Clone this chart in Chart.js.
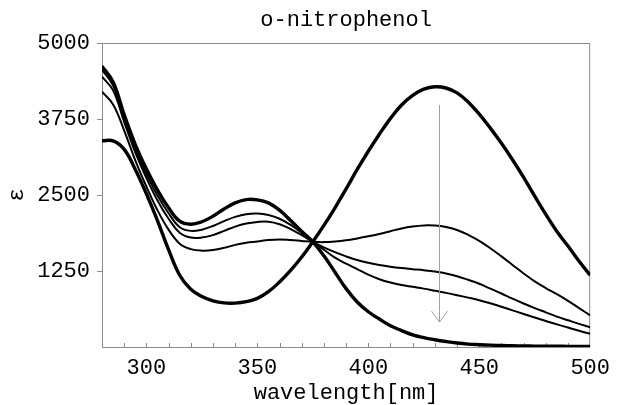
<!DOCTYPE html>
<html>
<head>
<meta charset="utf-8">
<script src="https://cdn.jsdelivr.net/npm/chart.js@4"></script>
<style>
  html, body { margin: 0; padding: 0; background: #fff; }
  #c { display: block; }
</style>
</head>
<body>
<canvas id="c" width="618" height="405"></canvas>
<script>
// ---- data ----
const wavelengths = [280,285,290,295,300,305,310,315,320,325,330,335,340,345,350,355,360,365,370,375,
  380,385,390,395,400,405,410,415,420,425,430,435,440,445,450,455,460,465,470,475,480,485,490,495,500];

const seriesBasic = [3390,3390,3250,2920,2520,2080,1600,1180,950,830,760,725,722,745,800,910,1070,1260,1480,1730,
  2000,2290,2600,2920,3220,3500,3760,3980,4140,4240,4280,4260,4180,4030,3830,3600,3350,3080,2790,2480,2180,1900,1660,1410,1180];

const seriesMid1 = [4198,3990,3560,3070,2640,2250,1930,1700,1610,1585,1595,1630,1680,1715,1735,1760,1770,1760,1745,1730,
  1725,1735,1755,1785,1820,1860,1905,1950,1982,2000,1998,1975,1925,1845,1745,1625,1490,1350,1210,1080,970,870,760,640,520];

const seriesMid2 = [4445,4220,3700,3200,2780,2410,2110,1880,1800,1800,1840,1910,1980,2030,2056,2060,2020,1940,1840,1730,
  1640,1560,1490,1430,1385,1348,1320,1298,1280,1262,1240,1210,1165,1105,1040,960,880,795,715,640,570,500,440,380,327];

const seriesMid3 = [4560,4300,3760,3260,2850,2490,2200,1970,1910,1930,1990,2070,2140,2185,2195,2170,2110,2010,1880,1730,
  1600,1470,1370,1280,1190,1115,1060,1020,990,960,925,890,852,812,770,720,663,603,543,485,428,372,320,266,217];

const seriesAcid = [4620,4360,3820,3330,2930,2580,2290,2070,2020,2060,2150,2270,2370,2425,2420,2370,2250,2080,1900,1730,
  1500,1230,960,740,580,460,350,270,200,155,120,90,65,48,38,30,25,20,17,15,13,12,11,10,10];

const xTickValues = [300, 350, 400, 450, 500];
const xMinorTicks = [290,300,310,320,330,340,350,360,370,380,390,400,410,420,430,440,450,460,470,480,490];
const yTickValues = [1250, 2500, 3750, 5000];
const arrowX = 432;
const arrowFrom = 3980;
const arrowTo = 410;

const titleText = 'o-nitrophenol';
const xTitle = 'wavelength[nm]';
const yTitle = 'ε';

// ---- build ----
const FONT = "'Liberation Mono', 'Courier New', monospace";
const GRAY = '#8a8a8a';

function pts(vals) { return wavelengths.map((w, i) => ({ x: w, y: vals[i] })); }

function ds(vals, width) {
  return {
    data: pts(vals),
    borderColor: '#000',
    borderWidth: width,
    pointRadius: 0,
    fill: false,
    tension: 0.4,
    showLine: true
  };
}

const decor = {
  id: 'decor',
  beforeDatasetsDraw(chart) {
    const { ctx, chartArea: a, scales } = chart;
    ctx.save();
    ctx.strokeStyle = GRAY;
    ctx.lineWidth = 1;
    ctx.strokeRect(a.left + 0.5, a.top + 0.5, a.right - a.left - 1, a.bottom - a.top);
    ctx.beginPath();
    xMinorTicks.forEach(v => {
      const px = Math.round(scales.x.getPixelForValue(v)) + 0.5;
      ctx.moveTo(px, a.bottom);
      ctx.lineTo(px, a.bottom - 4);
    });
    ctx.stroke();
    ctx.restore();
  },
  afterDatasetsDraw(chart) {
    const { ctx, scales } = chart;
    const x = Math.round(scales.x.getPixelForValue(arrowX)) + 0.5;
    const y1 = scales.y.getPixelForValue(arrowFrom);
    const y2 = scales.y.getPixelForValue(arrowTo);
    ctx.save();
    ctx.strokeStyle = '#a0a0a0';
    ctx.lineWidth = 1;
    ctx.beginPath();
    ctx.moveTo(x, y1);
    ctx.lineTo(x, y2);
    ctx.moveTo(x - 8, y2 - 11);
    ctx.lineTo(x, y2);
    ctx.lineTo(x + 8, y2 - 11);
    ctx.stroke();
    ctx.restore();
  }
};

new Chart(document.getElementById('c'), {
  type: 'line',
  data: {
    datasets: [
      ds(seriesBasic, 3.4),
      ds(seriesMid1, 2),
      ds(seriesMid2, 2),
      ds(seriesMid3, 2),
      ds(seriesAcid, 3.4)
    ]
  },
  options: {
    responsive: false,
    animation: false,
    devicePixelRatio: 1,
    layout: { padding: { left: 0, right: 22, top: 0, bottom: 0 } },
    plugins: {
      legend: { display: false },
      tooltip: { enabled: false },
      title: {
        display: true,
        fullSize: false,
        text: titleText,
        color: '#000',
        font: { family: FONT, size: 22, weight: 'normal', lineHeight: 1.2 },
        padding: { top: 7, bottom: 9.6 }
      }
    },
    scales: {
      x: {
        type: 'linear',
        min: 280,
        max: 500,
        position: 'bottom',
        afterBuildTicks: s => { s.ticks = xTickValues.map(v => ({ value: v })); },
        afterFit: s => { s.height = 58; },
        grid: { display: false, drawTicks: false },
        border: { display: false },
        ticks: {
          color: '#000',
          padding: 8,
          maxRotation: 0,
          font: { family: FONT, size: 22 },
          callback: v => String(v)
        },
        title: {
          display: true,
          text: xTitle,
          color: '#000',
          font: { family: FONT, size: 22, lineHeight: 1 },
          padding: { top: 0, bottom: 1 }
        }
      },
      y: {
        type: 'linear',
        min: 0,
        max: 5000,
        afterBuildTicks: s => { s.ticks = yTickValues.map(v => ({ value: v })); },
        afterFit: s => { s.width = 102; },
        grid: { drawOnChartArea: false, drawTicks: true, tickLength: 5, color: GRAY },
        border: { display: false },
        ticks: {
          color: '#000',
          padding: 7,
          font: { family: FONT, size: 22 },
          callback: v => String(v)
        },
        title: {
          display: true,
          text: yTitle,
          color: '#000',
          font: { family: FONT, size: 22, lineHeight: 1 },
          padding: { top: 6, bottom: 0 }
        }
      }
    }
  },
  plugins: [decor]
});
</script>
</body>
</html>
